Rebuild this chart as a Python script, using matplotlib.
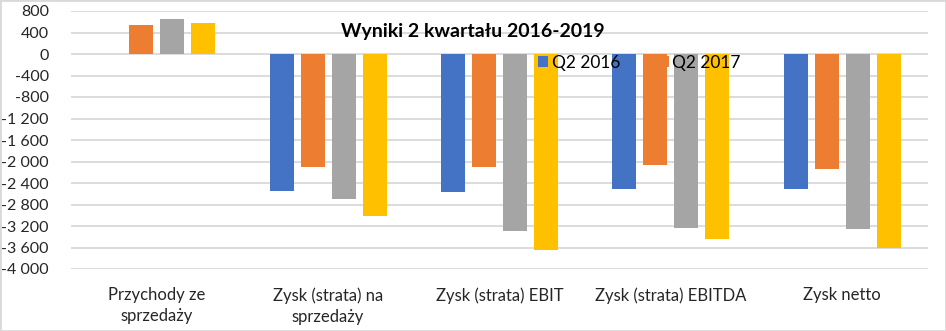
import numpy as np
import matplotlib.pyplot as plt
from matplotlib.ticker import FuncFormatter
from matplotlib.patches import Rectangle

# categories and values
categories = ["Przychody ze\nsprzedaży", "Zysk (strata) na\nsprzedaży", "Zysk (strata) EBIT",
              "Zysk (strata) EBITDA", "Zysk netto"]
series_names = ["Q2 2016", "Q2 2017", "Q2 2018", "Q2 2019"]
q2_2016 = [np.nan, -2544, -2563, -2507, -2507]
q2_2017 = [532, -2098, -2098, -2061, -2136]
q2_2018 = [644, -2693, -3287, -3237, -3250]
q2_2019 = [570, -3008, -3640, -3435, -3603]
colors = ["#4472C4", "#ED7D31", "#A5A5A5", "#FFC000"]

plt.rcParams["font.family"] = ["Lato", "DejaVu Sans"]


def fmt(v, pos):
    s = f"{abs(int(v)):,}".replace(",", " ")
    return ("-" if v < 0 else "") + s


def main() -> None:
    fig = plt.figure(figsize=(9.46, 3.31), dpi=100)
    ax = fig.add_axes([71 / 946, 62 / 331, 857 / 946, 258 / 331])

    x = np.arange(len(categories))
    step, width = 0.181, 0.14
    bars = []
    for i, vals in enumerate([q2_2016, q2_2017, q2_2018, q2_2019]):
        b = ax.bar(x + (i - 1.5) * step, vals, width, color=colors[i],
                   label=series_names[i], zorder=3)
        bars.append(b)

    ax.set_xlim(-0.5, len(categories) - 0.5)
    ax.set_ylim(-4000, 800)
    ax.set_yticks(np.arange(-4000, 801, 400))
    ax.yaxis.set_major_formatter(FuncFormatter(fmt))
    ax.yaxis.grid(True, color="#D9D9D9", linewidth=1.3, zorder=0)
    ax.set_axisbelow(True)
    for s in ax.spines.values():
        s.set_visible(False)
    ax.tick_params(axis="both", length=0, colors="#262626")
    ax.tick_params(axis="y", pad=16, labelsize=11.5)
    ax.tick_params(axis="x", pad=13, labelsize=12)
    ax.set_xticks(x)
    ax.set_xticklabels(categories, linespacing=1.4)

    fig.text(0.5, 1 - 32 / 331, "Wyniki 2 kwartału 2016-2019", ha="center", va="center",
             fontsize=14, fontweight="bold", color="#000000")

    # only the first two legend entries are visible in the reference
    fig.legend(handles=[bars[0], bars[1]], loc="center left",
               bbox_to_anchor=(538 / 946, 1 - 63 / 331), ncol=2, frameon=False,
               fontsize=12.5, handlelength=0.6, handleheight=0.6, handletextpad=0.2,
               columnspacing=2.2, borderpad=0, borderaxespad=0)

    fig.patches.append(Rectangle((0, 0), 1, 1, transform=fig.transFigure, fill=False,
                                 edgecolor="#D9D9D9", linewidth=2))

    plt.savefig("out.png", dpi=100)
    plt.close()


if __name__ == '__main__':
    main()
